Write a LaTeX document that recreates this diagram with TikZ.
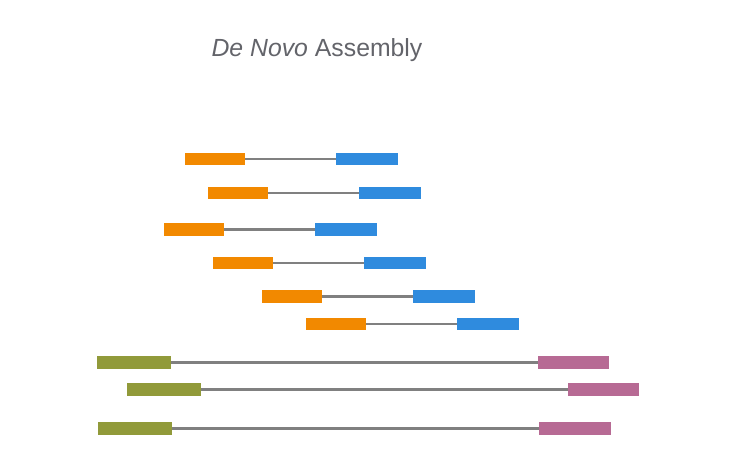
\documentclass[tikz,border=0pt]{standalone}
\usepackage{fontspec}
\setmainfont{Liberation Sans}
\definecolor{leftread}{RGB}{242,137,0}
\definecolor{rightread}{RGB}{47,139,222}
\definecolor{leftlong}{RGB}{145,154,58}
\definecolor{rightlong}{RGB}{183,106,148}
\definecolor{insertgray}{RGB}{128,128,128}
\definecolor{titlegray}{RGB}{99,100,106}

\begin{document}
\begin{tikzpicture}[x=1pt,y=-1pt,
    bar/.style={inner sep=0pt,minimum height=12.5pt,anchor=west},
    insert/.style={draw=insertgray,line width=2.5pt}]
    \useasboundingbox (0,0) rectangle (736,475);
    \node[anchor=base west,text=titlegray,font=\fontsize{24.8}{30}\selectfont] (title) at (208,56.7) {\textit{De Novo} Assembly};
    % short insert pairs
    \foreach \n/\y/\a/\b in {1/159/185/336,2/193/208/358.5,3/229.3/164/315,4/263/213/364,5/296.5/262/413,6/324/306/457} {
        \node[bar,fill=leftread,minimum width=60pt] (l\n) at (\a,\y) {};
        \node[bar,fill=rightread,minimum width=62pt] (r\n) at (\b,\y) {};
        \draw[insert] (l\n) -- (r\n);
    }
    % long insert pairs
    \foreach \n/\y/\a/\b in {7/362.3/97/537.5,8/389.3/127/567.5,9/428.5/98/539} {
        \node[bar,fill=leftlong,minimum width=74pt] (l\n) at (\a,\y) {};
        \node[bar,fill=rightlong,minimum width=71.5pt] (r\n) at (\b,\y) {};
        \draw[insert] (l\n) -- (r\n);
    }
\end{tikzpicture}
\end{document}
